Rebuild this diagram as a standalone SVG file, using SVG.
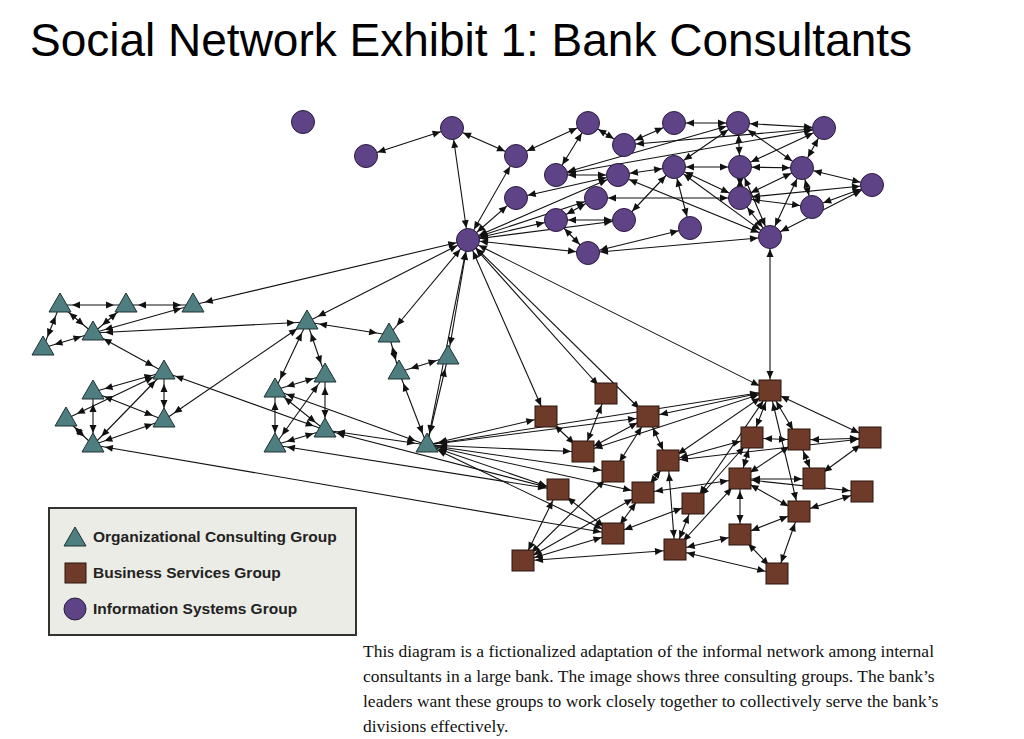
<svg xmlns="http://www.w3.org/2000/svg" width="1024" height="739" viewBox="0 0 1024 739">
<defs>
<marker id="a" markerUnits="userSpaceOnUse" markerWidth="30" markerHeight="30" viewBox="-30 -15 30 30" refX="0" refY="0" orient="auto-start-reverse"><path d="M-20,-3.5 L-12,0 L-20,3.5 z" fill="#111"/></marker>
<g id="tri"><path d="M0,-12 L11,7 L-11,7 z"/></g>
</defs>
<style>
.t{font-family:"Liberation Sans",Arial,sans-serif}
#edges line{stroke:#111;stroke-width:1.1;marker-start:url(#a);marker-end:url(#a)}
.p{fill:#5f4387;stroke:#2a1c40;stroke-width:1}
.g{fill:#4f7e80;stroke:#1e3234;stroke-width:1}
.b{fill:#6e3b2b;stroke:#2a140c;stroke-width:1}
.lg{font-family:"Liberation Sans",Arial,sans-serif;font-weight:bold;font-size:15.5px;fill:#222}
.c{font-family:"Liberation Serif","Times New Roman",serif;font-size:17.5px;fill:#111}
</style>
<rect width="1024" height="739" fill="#fff"/>
<text class="t" x="30" y="56" font-size="46">Social Network Exhibit 1: Bank Consultants</text>
<g id="edges">
<line x1="366" y1="156" x2="452" y2="128"/><line x1="452" y1="128" x2="516" y2="156"/><line x1="452" y1="128" x2="468" y2="240"/><line x1="516" y1="156" x2="468" y2="240"/><line x1="516" y1="156" x2="588" y2="123"/><line x1="588" y1="123" x2="624" y2="145"/><line x1="588" y1="123" x2="556" y2="175"/><line x1="674" y1="123" x2="624" y2="145"/><line x1="674" y1="123" x2="738" y2="123"/><line x1="738" y1="123" x2="824" y2="128"/><line x1="738" y1="123" x2="556" y2="175"/><line x1="824" y1="128" x2="556" y2="175"/><line x1="824" y1="128" x2="624" y2="145"/><line x1="738" y1="123" x2="674" y2="167"/><line x1="738" y1="123" x2="740" y2="167"/><line x1="738" y1="123" x2="802" y2="168"/><line x1="824" y1="128" x2="802" y2="168"/><line x1="824" y1="128" x2="740" y2="167"/><line x1="556" y1="175" x2="618" y2="175"/><line x1="674" y1="167" x2="618" y2="175"/><line x1="674" y1="167" x2="740" y2="167"/><line x1="740" y1="167" x2="802" y2="168"/><line x1="802" y1="168" x2="872" y2="185"/><line x1="674" y1="167" x2="624" y2="220"/><line x1="618" y1="175" x2="516" y2="198"/><line x1="618" y1="175" x2="468" y2="240"/><line x1="674" y1="167" x2="740" y2="198"/><line x1="674" y1="167" x2="690" y2="228"/><line x1="674" y1="167" x2="770" y2="237"/><line x1="618" y1="175" x2="770" y2="237"/><line x1="596" y1="198" x2="740" y2="198"/><line x1="740" y1="198" x2="872" y2="185"/><line x1="740" y1="198" x2="812" y2="207"/><line x1="740" y1="198" x2="770" y2="237"/><line x1="802" y1="168" x2="770" y2="237"/><line x1="802" y1="168" x2="812" y2="207"/><line x1="812" y1="207" x2="872" y2="185"/><line x1="770" y1="237" x2="872" y2="185"/><line x1="740" y1="167" x2="770" y2="237"/><line x1="556" y1="220" x2="596" y2="198"/><line x1="556" y1="220" x2="624" y2="220"/><line x1="556" y1="220" x2="588" y2="253"/><line x1="556" y1="220" x2="468" y2="240"/><line x1="624" y1="220" x2="468" y2="240"/><line x1="588" y1="253" x2="468" y2="240"/><line x1="588" y1="253" x2="690" y2="228"/><line x1="588" y1="253" x2="770" y2="237"/><line x1="596" y1="198" x2="468" y2="240"/><line x1="516" y1="198" x2="468" y2="240"/><line x1="740" y1="167" x2="740" y2="198"/><line x1="802" y1="168" x2="740" y2="198"/><line x1="770" y1="237" x2="770" y2="391"/>
<line x1="60" y1="305" x2="126" y2="305"/><line x1="126" y1="305" x2="193" y2="305"/><line x1="60" y1="305" x2="93" y2="333"/><line x1="60" y1="305" x2="43" y2="348"/><line x1="43" y1="348" x2="93" y2="333"/><line x1="126" y1="305" x2="93" y2="333"/><line x1="193" y1="305" x2="93" y2="333"/><line x1="193" y1="305" x2="468" y2="240"/><line x1="93" y1="333" x2="307" y2="322"/><line x1="93" y1="333" x2="164" y2="372"/><line x1="307" y1="322" x2="468" y2="240"/><line x1="307" y1="322" x2="389" y2="335"/><line x1="307" y1="322" x2="275" y2="390"/><line x1="307" y1="322" x2="325" y2="375"/><line x1="307" y1="322" x2="164" y2="420"/><line x1="389" y1="335" x2="468" y2="240"/><line x1="389" y1="335" x2="399" y2="372"/><line x1="399" y1="372" x2="448" y2="357"/><line x1="448" y1="357" x2="468" y2="240"/><line x1="399" y1="372" x2="427" y2="445"/><line x1="448" y1="357" x2="427" y2="445"/><line x1="164" y1="372" x2="93" y2="392"/><line x1="164" y1="372" x2="66" y2="419"/><line x1="164" y1="372" x2="164" y2="420"/><line x1="164" y1="372" x2="93" y2="445"/><line x1="93" y1="392" x2="93" y2="445"/><line x1="93" y1="392" x2="164" y2="420"/><line x1="66" y1="419" x2="93" y2="445"/><line x1="164" y1="420" x2="93" y2="445"/><line x1="325" y1="430" x2="164" y2="372"/><line x1="325" y1="375" x2="275" y2="390"/><line x1="325" y1="375" x2="325" y2="430"/><line x1="325" y1="375" x2="275" y2="445"/><line x1="275" y1="390" x2="275" y2="445"/><line x1="275" y1="390" x2="325" y2="430"/><line x1="275" y1="390" x2="427" y2="445"/><line x1="325" y1="430" x2="275" y2="445"/><line x1="325" y1="430" x2="427" y2="445"/><line x1="275" y1="445" x2="558" y2="490"/><line x1="325" y1="430" x2="558" y2="490"/><line x1="93" y1="445" x2="613" y2="534"/>
<line x1="468" y1="240" x2="770" y2="391"/><line x1="468" y1="240" x2="606" y2="394"/><line x1="468" y1="240" x2="648" y2="417"/><line x1="468" y1="240" x2="546" y2="417"/><line x1="468" y1="240" x2="427" y2="445"/>
<line x1="427" y1="445" x2="546" y2="417"/><line x1="427" y1="445" x2="648" y2="417"/><line x1="427" y1="445" x2="583" y2="452"/><line x1="427" y1="445" x2="613" y2="472"/><line x1="427" y1="445" x2="558" y2="490"/><line x1="427" y1="445" x2="643" y2="493"/><line x1="427" y1="445" x2="613" y2="534"/><line x1="427" y1="445" x2="770" y2="391"/>
<line x1="770" y1="391" x2="648" y2="417"/><line x1="770" y1="391" x2="583" y2="452"/><line x1="770" y1="391" x2="668" y2="461"/><line x1="770" y1="391" x2="752" y2="438"/><line x1="770" y1="391" x2="799" y2="440"/><line x1="770" y1="391" x2="870" y2="438"/><line x1="770" y1="391" x2="799" y2="512"/><line x1="770" y1="391" x2="693" y2="504"/>
<line x1="606" y1="394" x2="583" y2="452"/><line x1="546" y1="417" x2="583" y2="452"/><line x1="648" y1="417" x2="583" y2="452"/><line x1="648" y1="417" x2="668" y2="461"/><line x1="648" y1="417" x2="613" y2="472"/><line x1="752" y1="438" x2="799" y2="440"/><line x1="752" y1="438" x2="740" y2="479"/><line x1="752" y1="438" x2="668" y2="461"/><line x1="752" y1="438" x2="693" y2="504"/><line x1="799" y1="440" x2="870" y2="438"/><line x1="799" y1="440" x2="740" y2="479"/><line x1="799" y1="440" x2="814" y2="479"/><line x1="870" y1="438" x2="668" y2="461"/><line x1="870" y1="438" x2="814" y2="479"/><line x1="740" y1="479" x2="814" y2="479"/><line x1="740" y1="479" x2="862" y2="492"/><line x1="740" y1="479" x2="643" y2="493"/><line x1="740" y1="479" x2="799" y2="512"/><line x1="740" y1="479" x2="740" y2="535"/><line x1="668" y1="461" x2="675" y2="550"/><line x1="668" y1="461" x2="643" y2="493"/><line x1="862" y1="492" x2="799" y2="512"/><line x1="799" y1="512" x2="740" y2="535"/><line x1="799" y1="512" x2="777" y2="574"/><line x1="693" y1="504" x2="675" y2="550"/><line x1="693" y1="504" x2="613" y2="534"/><line x1="740" y1="479" x2="675" y2="550"/><line x1="740" y1="535" x2="675" y2="550"/><line x1="740" y1="535" x2="777" y2="574"/><line x1="675" y1="550" x2="523" y2="561"/><line x1="675" y1="550" x2="777" y2="574"/><line x1="613" y1="534" x2="523" y2="561"/><line x1="558" y1="490" x2="523" y2="561"/><line x1="558" y1="490" x2="613" y2="534"/><line x1="613" y1="472" x2="523" y2="561"/><line x1="643" y1="493" x2="613" y2="534"/><line x1="643" y1="493" x2="523" y2="561"/>
</g>
<g id="n-P0"><circle class="p" cx="303" cy="122" r="11.5"/></g>
<g id="n-P1"><circle class="p" cx="366" cy="156" r="11.5"/></g>
<g id="n-P2"><circle class="p" cx="452" cy="128" r="11.5"/></g>
<g id="n-P3"><circle class="p" cx="516" cy="156" r="11.5"/></g>
<g id="n-P4"><circle class="p" cx="588" cy="123" r="11.5"/></g>
<g id="n-P5"><circle class="p" cx="674" cy="123" r="11.5"/></g>
<g id="n-P6"><circle class="p" cx="738" cy="123" r="11.5"/></g>
<g id="n-P7"><circle class="p" cx="824" cy="128" r="11.5"/></g>
<g id="n-P8"><circle class="p" cx="624" cy="145" r="11.5"/></g>
<g id="n-P9"><circle class="p" cx="556" cy="175" r="11.5"/></g>
<g id="n-P10"><circle class="p" cx="618" cy="175" r="11.5"/></g>
<g id="n-P11"><circle class="p" cx="674" cy="167" r="11.5"/></g>
<g id="n-P12"><circle class="p" cx="740" cy="167" r="11.5"/></g>
<g id="n-P13"><circle class="p" cx="802" cy="168" r="11.5"/></g>
<g id="n-P14"><circle class="p" cx="872" cy="185" r="11.5"/></g>
<g id="n-P15"><circle class="p" cx="516" cy="198" r="11.5"/></g>
<g id="n-P16"><circle class="p" cx="596" cy="198" r="11.5"/></g>
<g id="n-P17"><circle class="p" cx="740" cy="198" r="11.5"/></g>
<g id="n-P18"><circle class="p" cx="812" cy="207" r="11.5"/></g>
<g id="n-P19"><circle class="p" cx="556" cy="220" r="11.5"/></g>
<g id="n-P20"><circle class="p" cx="624" cy="220" r="11.5"/></g>
<g id="n-P21"><circle class="p" cx="690" cy="228" r="11.5"/></g>
<g id="n-P22"><circle class="p" cx="770" cy="237" r="11.5"/></g>
<g id="n-P23"><circle class="p" cx="588" cy="253" r="11.5"/></g>
<g id="n-H"><circle class="p" cx="468" cy="240" r="11.5"/></g>
<g id="n-T1"><use href="#tri" class="g" x="60" y="305"/></g>
<g id="n-T2"><use href="#tri" class="g" x="126" y="305"/></g>
<g id="n-T3"><use href="#tri" class="g" x="193" y="305"/></g>
<g id="n-T4"><use href="#tri" class="g" x="93" y="333"/></g>
<g id="n-T5"><use href="#tri" class="g" x="43" y="348"/></g>
<g id="n-T6"><use href="#tri" class="g" x="307" y="322"/></g>
<g id="n-T7"><use href="#tri" class="g" x="389" y="335"/></g>
<g id="n-T8"><use href="#tri" class="g" x="448" y="357"/></g>
<g id="n-T9"><use href="#tri" class="g" x="399" y="372"/></g>
<g id="n-T10"><use href="#tri" class="g" x="164" y="372"/></g>
<g id="n-T11"><use href="#tri" class="g" x="93" y="392"/></g>
<g id="n-T12"><use href="#tri" class="g" x="325" y="375"/></g>
<g id="n-T13"><use href="#tri" class="g" x="275" y="390"/></g>
<g id="n-T14"><use href="#tri" class="g" x="66" y="419"/></g>
<g id="n-T15"><use href="#tri" class="g" x="164" y="420"/></g>
<g id="n-T16"><use href="#tri" class="g" x="325" y="430"/></g>
<g id="n-T17"><use href="#tri" class="g" x="93" y="445"/></g>
<g id="n-T18"><use href="#tri" class="g" x="275" y="445"/></g>
<g id="n-T19"><use href="#tri" class="g" x="427" y="445"/></g>
<g id="n-S1"><rect class="b" x="759" y="380" width="22" height="21"/></g>
<g id="n-S2"><rect class="b" x="595" y="383" width="22" height="21"/></g>
<g id="n-S3"><rect class="b" x="535" y="406" width="22" height="21"/></g>
<g id="n-S4"><rect class="b" x="637" y="406" width="22" height="21"/></g>
<g id="n-S5"><rect class="b" x="572" y="441" width="22" height="21"/></g>
<g id="n-S6"><rect class="b" x="741" y="427" width="22" height="21"/></g>
<g id="n-S7"><rect class="b" x="788" y="429" width="22" height="21"/></g>
<g id="n-S8"><rect class="b" x="859" y="427" width="22" height="21"/></g>
<g id="n-S9"><rect class="b" x="657" y="450" width="22" height="21"/></g>
<g id="n-S10"><rect class="b" x="602" y="461" width="22" height="21"/></g>
<g id="n-S11"><rect class="b" x="729" y="468" width="22" height="21"/></g>
<g id="n-S12"><rect class="b" x="803" y="468" width="22" height="21"/></g>
<g id="n-S13"><rect class="b" x="851" y="481" width="22" height="21"/></g>
<g id="n-S14"><rect class="b" x="547" y="479" width="22" height="21"/></g>
<g id="n-S15"><rect class="b" x="632" y="482" width="22" height="21"/></g>
<g id="n-S16"><rect class="b" x="682" y="493" width="22" height="21"/></g>
<g id="n-S17"><rect class="b" x="788" y="501" width="22" height="21"/></g>
<g id="n-S18"><rect class="b" x="602" y="523" width="22" height="21"/></g>
<g id="n-S19"><rect class="b" x="729" y="524" width="22" height="21"/></g>
<g id="n-S20"><rect class="b" x="664" y="539" width="22" height="21"/></g>
<g id="n-S21"><rect class="b" x="512" y="550" width="22" height="21"/></g>
<g id="n-S22"><rect class="b" x="766" y="563" width="22" height="21"/></g>
<g id="legend">
<rect x="49" y="508" width="307" height="127" fill="#ecece6" stroke="#333" stroke-width="2"/>
<use href="#tri" class="g" x="75" y="539"/>
<rect class="b" x="65" y="563" width="21" height="20"/>
<circle class="p" cx="75" cy="609" r="11"/>
<text class="lg" x="93" y="542">Organizational Consulting Group</text>
<text class="lg" x="93" y="578">Business Services Group</text>
<text class="lg" x="93" y="614">Information Systems Group</text>
</g>
<text class="c" x="363" y="657">This diagram is a fictionalized adaptation of  the informal network among internal</text>
<text class="c" x="363" y="682">consultants in a large bank. The image shows three consulting groups. The bank’s</text>
<text class="c" x="363" y="707">leaders want these groups to work closely together to collectively serve the bank’s</text>
<text class="c" x="363" y="732">divisions effectively.</text>
</svg>
